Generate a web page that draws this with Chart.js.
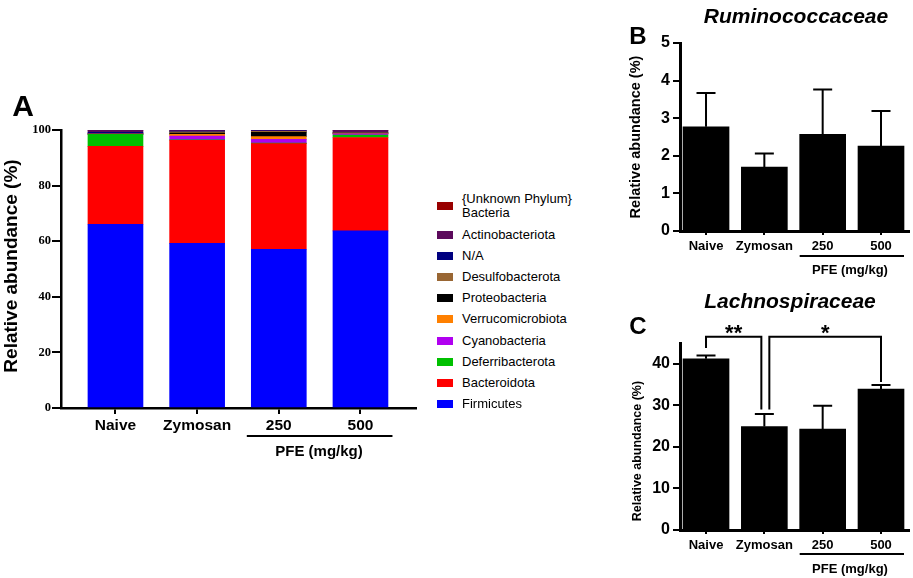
<!DOCTYPE html>
<html>
<head>
<meta charset="utf-8">
<script src="https://cdn.jsdelivr.net/npm/chart.js@4.4.1/dist/chart.umd.min.js"></script>
<style>
  body { margin: 0; background: #fff; }
  #fig { position: relative; width: 913px; height: 578px; overflow: hidden; background: #fff;
         font-family: "Liberation Sans", Arial, sans-serif; color: #000; }
  #fig canvas { position: absolute; }
  .t { position: absolute; transform: translate(-50%, -50%); line-height: 1; white-space: nowrap; font-weight: bold; }
  .leg { position: absolute; transform: translateY(-50%); font-size: 13px; line-height: 14px; white-space: pre; }
  .sw { position: absolute; width: 16px; height: 8px; }
</style>
</head>
<body>
<div id="fig">
  <canvas id="chartA" width="420" height="470" style="left:0;top:0"></canvas>
  <canvas id="chartB" width="293" height="290" style="left:620px;top:0"></canvas>
  <canvas id="chartC" width="293" height="288" style="left:620px;top:290px"></canvas>
</div>
<script>
// gruppi sperimentali
const groups = ['Naive', 'Zymosan', '250', '500'];

// phyla, dal basso verso l'alto nella colonna impilata
const phyla = ['Firmicutes', 'Bacteroidota', 'Deferribacterota', 'Cyanobacteria', 'Verrucomicrobiota',
  'Proteobacteria', 'Desulfobacterota', 'N/A', 'Actinobacteriota', '{Unknown Phylum}\nBacteria'];
const phylaColors = ['#0000ff', '#ff0000', '#00c000', '#b000f0', '#ff8000',
  '#000000', '#996633', '#000080', '#5c0a5c', '#990000'];

// abbondanza relativa (%) per gruppo
const firmicutes = [66.1, 59.2, 57.1, 63.7];
const bacteroidota = [28.0, 37.1, 38.0, 33.6];
const deferribacterota = [4.3, 0.2, 0.2, 0.9];
const cyanobacteria = [0.1, 1.3, 1.3, 0.4];
const verrucomicrobiota = [0.0, 0.6, 1.0, 0.1];
const proteobacteria = [0.1, 0.5, 1.6, 0.2];
const desulfobacterota = [0.1, 0.4, 0.3, 0.2];
const naPhylum = [0.5, 0.3, 0.2, 0.1];
const actinobacteriota = [0.7, 0.3, 0.2, 0.7];
const unknownPhylum = [0.1, 0.1, 0.1, 0.1];
const phylaValues = [firmicutes, bacteroidota, deferribacterota, cyanobacteria, verrucomicrobiota,
  proteobacteria, desulfobacterota, naPhylum, actinobacteriota, unknownPhylum];

// famiglie: media e SEM
const rumino = [2.77, 1.70, 2.57, 2.26];
const ruminoSem = [0.90, 0.36, 1.19, 0.93];
const lachno = [41.2, 24.9, 24.3, 33.9];
const lachnoSem = [0.8, 3.0, 5.6, 1.0];

const ticksA = [0, 20, 40, 60, 80, 100];
const ticksB = [0, 1, 2, 3, 4, 5];
const ticksC = [0, 10, 20, 30, 40];

const SANS = '"Liberation Sans", Arial, sans-serif';
const SERIF = '"Liberation Serif", "Times New Roman", serif';
const fig = document.getElementById('fig');

function testo(txt, x, y, css) {
  const d = document.createElement('div');
  d.className = 't';
  d.textContent = txt;
  d.style.left = x + 'px';
  d.style.top = y + 'px';
  Object.assign(d.style, css);
  fig.appendChild(d);
}

// linea "PFE" sotto le ultime due colonne
const pfeLine = {
  id: 'pfeLine',
  afterDraw(chart, args, opts) {
    if (opts.offset === undefined) return;
    const { ctx, chartArea, scales: { x } } = chart;
    const y = chartArea.bottom + opts.offset;
    ctx.save();
    ctx.strokeStyle = '#000';
    ctx.lineWidth = 2;
    ctx.beginPath();
    ctx.moveTo(x.getPixelForValue(3) - opts.ext, y);
    ctx.lineTo(x.getPixelForValue(4) + opts.ext, y);
    ctx.stroke();
    ctx.restore();
  }
};

// barre d'errore (solo verso l'alto)
const errorBars = {
  id: 'errorBars',
  afterDatasetsDraw(chart, args, opts) {
    if (!opts.sem) return;
    const { ctx, scales: { y } } = chart;
    const meta = chart.getDatasetMeta(0);
    const vals = chart.data.datasets[0].data;
    ctx.save();
    ctx.strokeStyle = '#000';
    ctx.lineWidth = 2;
    meta.data.forEach((bar, i) => {
      const top = y.getPixelForValue(vals[i].y + opts.sem[i]);
      ctx.beginPath();
      ctx.moveTo(bar.x, bar.y);
      ctx.lineTo(bar.x, top);
      ctx.moveTo(bar.x - opts.cap / 2, top);
      ctx.lineTo(bar.x + opts.cap / 2, top);
      ctx.stroke();
    });
    ctx.restore();
  }
};

// parentesi di significativita'
const sigBrackets = {
  id: 'sigBrackets',
  afterDraw(chart, args, opts) {
    if (!opts.pairs) return;
    const { ctx, scales: { x, y } } = chart;
    const vals = chart.data.datasets[0].data;
    const yTop = y.getPixelForValue(opts.level);
    ctx.save();
    ctx.strokeStyle = '#000';
    ctx.fillStyle = '#000';
    ctx.lineWidth = 2;
    ctx.font = 'bold 22px ' + SANS;
    ctx.textAlign = 'center';
    ctx.textBaseline = 'alphabetic';
    for (const p of opts.pairs) {
      const x1 = x.getPixelForValue(p.from) + p.dx1;
      const x2 = x.getPixelForValue(p.to) + p.dx2;
      const y1 = y.getPixelForValue(vals[p.from - 1].y + opts.sem[p.from - 1] + p.gap1);
      const y2 = y.getPixelForValue(vals[p.to - 1].y + opts.sem[p.to - 1] + p.gap2);
      ctx.beginPath();
      ctx.moveTo(x1, y1);
      ctx.lineTo(x1, yTop);
      ctx.lineTo(x2, yTop);
      ctx.lineTo(x2, y2);
      ctx.stroke();
      ctx.fillText(p.label, (x1 + x2) / 2, yTop + 3);
    }
    ctx.restore();
  }
};

function assi(o) {
  return {
    x: {
      type: 'linear', min: o.xmin, max: o.xmax, stacked: true, offset: false,
      afterBuildTicks: s => { s.ticks = groups.map((g, i) => ({ value: i + 1 })); },
      afterFit: s => { s.height = o.xh; },
      ticks: { callback: v => groups[v - 1], color: '#000', padding: o.xpad, maxRotation: 0, autoSkip: false,
               font: { family: SANS, size: o.xfont, weight: 'bold' } },
      grid: { offset: false, drawOnChartArea: false, tickLength: o.xtick, color: '#000', lineWidth: 2 },
      border: { color: '#000', width: o.bw }
    },
    y: {
      min: 0, max: o.ymax, stacked: true,
      afterBuildTicks: s => { s.ticks = o.yticks.map(v => ({ value: v })); },
      afterFit: s => { s.width = o.yw; },
      ticks: { color: '#000', padding: o.ypad, font: o.yfontObj },
      grid: { drawOnChartArea: false, tickLength: o.ytick, color: '#000', lineWidth: 2 },
      border: { color: '#000', width: o.bw }
    }
  };
}

const base = {
  responsive: false,
  animation: false,
  events: [],
  plugins: { legend: { display: false }, tooltip: { enabled: false } }
};

// A: composizione per phylum
new Chart(document.getElementById('chartA'), {
  type: 'bar',
  data: {
    datasets: phyla.map((p, k) => ({
      label: p,
      data: phylaValues[k].map((v, i) => ({ x: i + 1, y: v })),
      backgroundColor: phylaColors[k],
      barThickness: 55,
      borderWidth: 0
    }))
  },
  options: {
    ...base,
    layout: { padding: { left: 0, top: 130, right: 4, bottom: 0 } },
    scales: assi({ xmin: 0.333, xmax: 4.68, xh: 62, xpad: 2, xfont: 15.5, xtick: 6, bw: 2.5,
                   ymax: 100, yticks: ticksA, yw: 61, ypad: 1, ytick: 9,
                   yfontObj: { family: SERIF, size: 12.5, weight: 'bold' } }),
    plugins: { ...base.plugins, pfeLine: { offset: 28, ext: 32 } }
  },
  plugins: [pfeLine]
});

function famiglia(id, vals, sem, o, extra) {
  return new Chart(document.getElementById(id), {
    type: 'bar',
    data: {
      datasets: [{
        data: vals.map((v, i) => ({ x: i + 1, y: v })),
        backgroundColor: '#000',
        barThickness: 46,
        borderWidth: 0
      }]
    },
    options: {
      ...base,
      layout: { padding: { left: 0, top: o.top, right: 4, bottom: 0 } },
      scales: assi({ xmin: 0.554, xmax: 4.48, xh: o.xh, xpad: 4, xfont: 13, xtick: 4, bw: 3,
                     ymax: o.ymax, yticks: o.yticks, yw: 60, ypad: 3, ytick: 7,
                     yfontObj: { family: SANS, size: 16, weight: 'bold' } }),
      plugins: { ...base.plugins,
                 pfeLine: { offset: o.pfe, ext: 23 },
                 errorBars: { sem: sem, cap: 19 },
                 sigBrackets: extra || {} }
    },
    plugins: [errorBars, pfeLine, sigBrackets]
  });
}

// B: Ruminococcaceae
famiglia('chartB', rumino, ruminoSem, { top: 43, xh: 59, ymax: 5, yticks: ticksB, pfe: 25 });

// C: Lachnospiraceae
famiglia('chartC', lachno, lachnoSem, { top: 53, xh: 48, ymax: 45, yticks: ticksC, pfe: 24 }, {
  level: 46.5,
  sem: lachnoSem,
  pairs: [
    { from: 1, to: 2, dx1: 0, dx2: -3, gap1: 1.8, gap2: 1.1, label: '**' },
    { from: 2, to: 4, dx1: 5, dx2: 0, gap1: 1.1, gap2: 0.7, label: '*' }
  ]
});

// testi del pannello
testo('A', 23, 106, { fontSize: '30px' });
testo('Relative abundance (%)', 10, 266, { fontSize: '19px', transform: 'translate(-50%, -50%) rotate(-90deg)' });
testo('PFE (mg/kg)', 319, 450, { fontSize: '15px' });

testo('B', 638, 36, { fontSize: '24px' });
testo('Ruminococcaceae', 796, 15, { fontSize: '21px', fontStyle: 'italic' });
testo('Relative abundance (%)', 635, 137, { fontSize: '14.5px', transform: 'translate(-50%, -50%) rotate(-90deg)' });
testo('PFE (mg/kg)', 850, 269, { fontSize: '13px' });

testo('C', 638, 326, { fontSize: '24px' });
testo('Lachnospiraceae', 790, 300, { fontSize: '21px', fontStyle: 'italic' });
testo('Relative abundance (%)', 637, 451, { fontSize: '12.5px', transform: 'translate(-50%, -50%) rotate(-90deg)' });
testo('PFE (mg/kg)', 850, 568, { fontSize: '13px' });

// legenda (ordine inverso rispetto all'impilamento)
for (let k = 0; k < phyla.length; k++) {
  const i = phyla.length - 1 - k;
  const cy = k === 0 ? 206 : 235 + (k - 1) * 21.1;
  const sw = document.createElement('div');
  sw.className = 'sw';
  sw.style.left = '437px';
  sw.style.top = (cy - 4) + 'px';
  sw.style.background = phylaColors[i];
  fig.appendChild(sw);
  const t = document.createElement('div');
  t.className = 'leg';
  t.style.left = '462px';
  t.style.top = cy + 'px';
  t.textContent = phyla[i];
  fig.appendChild(t);
}
</script>
</body>
</html>
